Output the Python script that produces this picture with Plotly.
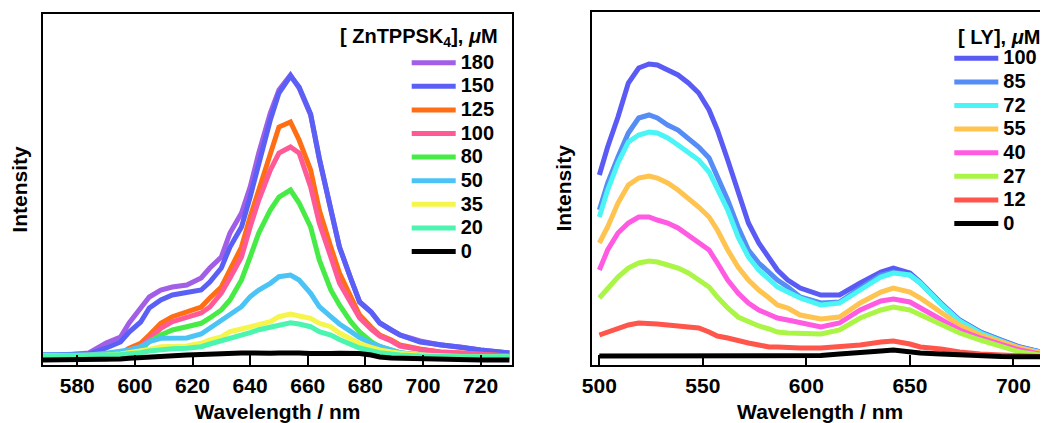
import plotly.graph_objects as go

# ---------------- Left panel: ZnTPPSK4 ----------------
wl_left = [568, 576, 584, 590, 595, 598, 602, 605, 609, 613, 618, 623, 626, 630, 633, 637, 640,
           643, 647, 650, 654, 657, 661, 664, 668, 671, 675, 678, 682, 685, 689, 692, 699, 706,
           713, 720, 730]
conc_left = ["180", "150", "125", "100", "80", "50", "35", "20", "0"]
colors_left = ["#A15EE6", "#5A5FF5", "#FF6E14", "#FF5A96", "#46EB46", "#4BC3F5", "#F5F54B",
               "#4BF5AF", "#000000"]

int_180 = [10, 10, 12, 22, 28, 42, 57, 68, 75, 78, 80, 87, 97, 108, 132, 152, 178, 212, 252, 275,
           290, 277, 250, 206, 155, 118, 86, 63, 53, 42, 35, 30, 24, 20, 18, 15, 12]
int_150 = [10, 10, 11, 17, 23, 33, 43, 57, 65, 70, 72, 75, 83, 97, 118, 138, 168, 202, 245, 272,
           289, 278, 251, 207, 156, 118, 86, 63, 53, 42, 35, 30, 23, 20, 18, 15, 12]
int_125 = [7.7, 7.7, 8.3, 9, 11.7, 16.7, 21.7, 30, 41.7, 48.3, 53.3, 58, 67, 78, 95, 118, 148, 175,
           208, 238, 243, 225, 195, 155, 118, 92, 68, 50, 38, 30, 25, 20, 16, 13, 12, 11, 9]
int_100 = [7, 7, 7.5, 8, 9, 11.7, 18.3, 26.7, 36.7, 43.3, 47.7, 52, 58, 72, 87, 108, 138, 165, 195,
           212, 218, 212, 178, 142, 108, 82, 62, 47, 36, 29, 24, 19, 15.5, 13, 12, 11, 9]
int_80 = [5.7, 5.7, 5.7, 6, 8, 10, 15, 23.3, 30, 35, 38.3, 41.7, 47, 55, 65, 85, 108, 132, 155, 168,
          175, 162, 138, 105, 75, 60, 43, 33, 23.3, 18.3, 15, 12.3, 10, 8.3, 8.3, 8.3, 8.3]
int_50 = [10, 10, 10, 11.7, 13, 15, 18.3, 23.3, 26.7, 26.7, 27, 31, 37, 45, 51.7, 58.3, 68.3, 75,
          81.7, 88.3, 90, 85, 71.7, 58.3, 48.3, 41, 33.3, 27.5, 21.7, 18.3, 15, 12.3, 10, 9, 8.5,
          8.3, 8.3]
int_35 = [9, 9, 9.5, 10, 11, 12, 13.3, 15.5, 18.3, 18.7, 19, 21.7, 25, 28, 33.3, 36, 38.3, 41, 43.3,
          48.3, 51, 49, 46.7, 41.7, 38.3, 32, 26, 21.5, 17.7, 15, 13, 11.7, 10, 9, 8.5, 8.3, 8.3]
int_20 = [9, 9, 9.5, 10, 10.5, 11, 12.3, 14, 15.7, 16.2, 16.7, 18.3, 21, 24, 26.7, 29.5, 32.3, 35.3,
          38.3, 40, 42.3, 41, 38.3, 33.3, 30, 25.5, 20.5, 17, 14.3, 12.3, 11, 10, 9, 8.3, 8.3, 8.3,
          8.3]
int_0 = [5, 5, 5, 5.5, 6, 6.7, 7.5, 8.5, 9, 9.5, 10, 10.5, 11, 11.5, 11.7, 12, 12, 11.5, 11.7, 12,
         12.3, 12, 11.5, 11, 11.5, 11.7, 11.7, 11.5, 10, 8, 7, 6.7, 6.5, 5.5, 5, 5, 5]
series_left = [int_180, int_150, int_125, int_100, int_80, int_50, int_35, int_20, int_0]

# ---------------- Right panel: LY ----------------
wl_right = [500, 504, 509, 514, 519, 524, 528, 533, 538, 543, 548, 553, 557, 562, 567, 572, 577,
            582, 586, 591, 597, 607, 616, 626, 636, 642, 650, 655, 665, 674, 684, 694, 703, 713, 717]
conc_right = ["100", "85", "72", "55", "40", "27", "12", "0"]
colors_right = ["#5A5AF5", "#558CF5", "#4BF5F5", "#FFC350", "#FF5AE1", "#AAF546", "#FF554B",
                "#000000"]

ly_100 = [190, 218, 248, 282, 297, 301, 300, 295, 290, 282, 272, 255, 235, 205, 172, 142, 122, 107,
          95, 85, 77, 70, 70, 82, 93, 97, 92, 83, 62, 45, 33, 25, 18, 13, 12]
ly_85 = [155, 182, 208, 232, 247, 250, 247, 240, 235, 227, 218, 207, 188, 165, 138, 115, 102, 92,
         85, 78, 68, 62, 63, 77, 90, 93, 90, 82, 61, 44, 33, 25, 18, 13, 11.5]
ly_72 = [148, 175, 202, 223, 230, 233, 232, 227, 220, 213, 205, 193, 175, 155, 128, 108, 95, 85,
         78, 73, 67, 60, 62, 75, 88, 92, 90, 82, 61, 44, 32, 24, 17, 12.5, 11]
ly_55 = [122, 138, 162, 180, 187, 189, 187, 182, 175, 167, 158, 148, 135, 115, 98, 85, 75, 67, 60,
         57, 50, 46, 48, 62, 73, 77, 73, 67, 52, 40, 30, 23, 17, 12, 11]
ly_40 = [95, 115, 132, 142, 148, 148, 145, 142, 137, 130, 123, 115, 102, 85, 72, 62, 55, 50, 47,
         45, 42, 38, 42, 55, 64, 66, 63, 57, 45, 35, 27, 20, 15, 11, 10]
ly_27 = [67, 77, 88, 97, 102, 104, 103, 100, 97, 92, 85, 78, 68, 57, 48, 43, 39, 36, 33, 32, 32,
         31, 35, 47, 55, 58, 55, 50, 40, 32, 25, 18, 13, 10, 9.5]
ly_12 = [30, 33, 37, 40, 42, 42, 41, 40, 39, 38, 37, 33, 29, 27, 24, 22, 20, 18, 18, 17, 17, 17,
         18, 20, 23, 24, 21, 18, 16, 13, 11, 10, 9, 8.5, 8]
ly_0 = [9, 9, 9, 9, 9, 9, 9, 9, 9, 9, 9, 9, 9, 9, 9, 9, 9, 9, 9, 9, 9, 9.5, 11, 12, 14, 15, 13, 12,
        11, 10, 9, 8.5, 8.3, 8.3, 8.3]
series_right = [ly_100, ly_85, ly_72, ly_55, ly_40, ly_27, ly_12, ly_0]

FONT = "Liberation Sans, Arial, Helvetica, sans-serif"
LINE_W = 5

# page body margin (8 px) offsets the figure inside the browser window
OFF = 8
W, H = 1048 - OFF, 423 - OFF


def px(x):
    return (x - OFF) / W


def py(y):
    return 1 - (y - OFF) / H


fig = go.Figure()

for name, col, vals in zip(conc_left, colors_left, series_left):
    fig.add_trace(go.Scatter(
        x=wl_left, y=vals, mode="lines", xaxis="x", yaxis="y",
        name=f'<span style="font-size:20px">{name}</span>',
        line=dict(color=col, width=LINE_W), legend="legend"))

for name, col, vals in zip(conc_right, colors_right, series_right):
    fig.add_trace(go.Scatter(
        x=wl_right, y=vals, mode="lines", xaxis="x2", yaxis="y2",
        name=f'<span style="font-size:20px">{name}</span>',
        line=dict(color=col, width=LINE_W), legend="legend2"))

axis_common = dict(showgrid=False, zeroline=False, showline=True, linecolor="black", linewidth=2,
                   automargin=False)
xfont = dict(family=FONT, size=21, color="black", weight="bold")

fig.update_layout(
    width=W, height=H,
    margin=dict(l=0, r=0, t=0, b=0, autoexpand=False),
    paper_bgcolor="white", plot_bgcolor="white",
    font=dict(family=FONT, color="black"),
    xaxis=dict(domain=[px(43), px(512)], range=[568.1, 730.9], anchor="y",
               tickmode="array", tickvals=[580, 600, 620, 640, 660, 680, 700, 720],
               ticks="inside", ticklen=10, tickwidth=2, tickcolor="black",
               tickfont=xfont, ticklabelstandoff=1, mirror=True,
               title=dict(text="Wavelength / nm", font=xfont, standoff=13), **axis_common),
    yaxis=dict(domain=[py(365), py(14)], range=[0, 351], anchor="x",
               showticklabels=False, ticks="", mirror=True,
               title=dict(text="Intensity", font=xfont, standoff=8), **axis_common),
    xaxis2=dict(domain=[px(592.3), 1.0], range=[496.6, 716.7], anchor="y2",
                tickmode="array", tickvals=[500, 550, 600, 650, 700],
                ticks="inside", ticklen=10, tickwidth=2, tickcolor="black",
                tickfont=xfont, ticklabelstandoff=1, mirror=True,
                title=dict(text="Wavelength / nm", font=xfont, standoff=13), **axis_common),
    yaxis2=dict(domain=[py(365), py(11.7)], range=[0, 353.3], anchor="x2",
                showticklabels=False, ticks="", mirror=False,
                title=dict(text="Intensity", font=xfont, standoff=12.7), **axis_common),
    legend=dict(x=px(406.7), y=py(45.9), xanchor="left", yanchor="top",
                bgcolor="rgba(0,0,0,0)", borderwidth=0, itemwidth=44,
                font=dict(family=FONT, size=15.85, color="black", weight="bold")),
    legend2=dict(x=px(949.3), y=py(41.5), xanchor="left", yanchor="top",
                 bgcolor="rgba(0,0,0,0)", borderwidth=0, itemwidth=44,
                 font=dict(family=FONT, size=15.85, color="black", weight="bold")),
    annotations=[
        dict(text="[ ZnTPPSK<sub>4</sub>], <i>μ</i>M", xref="paper", yref="paper",
             x=px(500), y=py(37.3), xanchor="right", yanchor="middle", showarrow=False,
             font=dict(family=FONT, size=20, color="black", weight="bold")),
        dict(text="[ LY], <i>μ</i>M", xref="paper", yref="paper",
             x=px(1042), y=py(36.7), xanchor="right", yanchor="middle", showarrow=False,
             font=dict(family=FONT, size=20, color="black", weight="bold")),
    ],
)

fig.write_html("out.html")
